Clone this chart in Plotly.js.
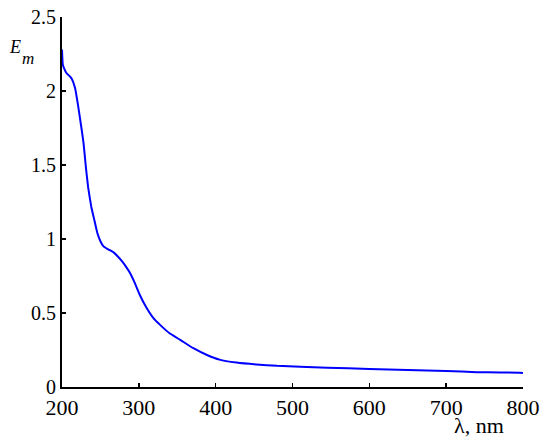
<!DOCTYPE html>
<html>
<head>
<meta charset="utf-8">
<script src="https://cdn.plot.ly/plotly-3.0.1.min.js"></script>
<style>
.main-svg text { font-family: 'Liberation Serif' !important; }
</style>
</head>
<body style="margin:0;background:#fff">
<div id="chart"></div>
<script>
const wavelength = [200, 201, 203, 206, 210, 213, 217, 221, 225, 228, 231, 234, 238, 242, 246, 250, 254, 260, 267, 273, 278, 283, 288, 295, 301, 310, 319, 328, 340, 354, 371, 388, 405, 427, 453, 480, 510, 545, 600, 650, 700, 740, 770, 796, 800];
const extinction = [2.28, 2.18, 2.15, 2.12, 2.10, 2.08, 2.02, 1.90, 1.76, 1.65, 1.49, 1.35, 1.22, 1.13, 1.04, 0.985, 0.95, 0.93, 0.91, 0.88, 0.85, 0.815, 0.775, 0.70, 0.625, 0.535, 0.465, 0.418, 0.363, 0.318, 0.262, 0.218, 0.185, 0.165, 0.152, 0.143, 0.137, 0.13, 0.122, 0.115, 0.108, 0.10, 0.098, 0.097, 0.094];
const xTicks = [200, 300, 400, 500, 600, 700, 800];
const yTicks = [0, 0.5, 1, 1.5, 2, 2.5];
const yTickText = ['0', '0.5', '1', '1.5', '2', '2.5'];

const fam = 'Liberation Serif';
const trace = {
  x: wavelength, y: extinction, type: 'scatter', mode: 'lines',
  line: {color: '#0000ff', width: 2, shape: 'spline', smoothing: 0.3}
};
const layout = {
  width: 550, height: 440,
  margin: {l: 62, r: 27, t: 17, b: 53},
  showlegend: false,
  xaxis: {
    range: [200, 800], tickvals: xTicks, ticktext: xTicks.map(String),
    ticks: 'inside', ticklen: 4, tickwidth: 1.5, tickcolor: '#000',
    showline: true, linecolor: '#000', linewidth: 2, showgrid: false, zeroline: false,
    tickfont: {family: fam, size: 22, color: '#000'}
  },
  yaxis: {
    range: [0, 2.5], tickvals: yTicks, ticktext: yTickText,
    ticks: 'inside', ticklen: 4, tickwidth: 1.5, tickcolor: '#000',
    showline: true, linecolor: '#000', linewidth: 2, showgrid: false, zeroline: false,
    tickfont: {family: fam, size: 20, color: '#000'}
  },
  annotations: [
    {text: 'λ, nm', xref: 'paper', yref: 'paper', x: 0.9046, y: -0.104, showarrow: false,
     xanchor: 'center', yanchor: 'middle', font: {family: fam, size: 22, color: '#000'}},
    {text: '<i>E</i>', xref: 'paper', yref: 'paper', x: -0.102, y: 0.9176, showarrow: false,
     xanchor: 'center', yanchor: 'middle', font: {family: fam, size: 18, color: '#000'}},
    {text: '<i>m</i>', xref: 'paper', yref: 'paper', x: -0.0727, y: 0.8865, showarrow: false,
     xanchor: 'center', yanchor: 'middle', font: {family: fam, size: 17, color: '#000'}}
  ]
};
Plotly.newPlot('chart', [trace], layout, {staticPlot: true});
</script>
</body>
</html>
